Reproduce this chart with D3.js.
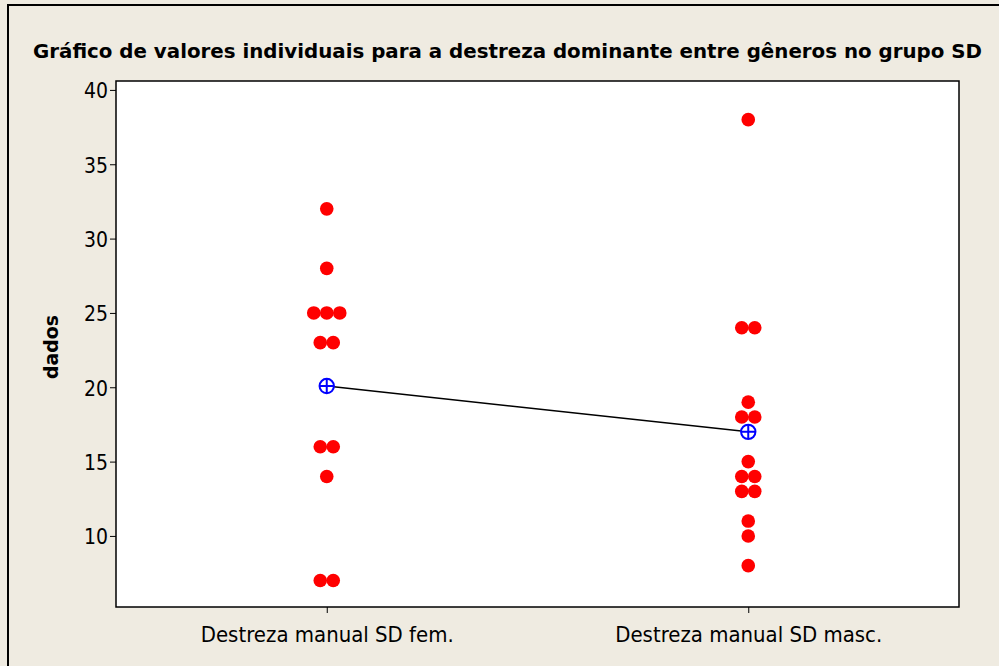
<!DOCTYPE html>
<html><head><meta charset="utf-8">
<script src="https://cdn.jsdelivr.net/npm/d3@7"></script>
<style>body{margin:0;background:#EFEBE1;}svg{display:block;}</style>
</head><body>
<svg id="chart" width="999" height="666"></svg>
<script>
const categories = ["Destreza manual SD fem.", "Destreza manual SD masc."];
const femValues = [32, 28, 25, 25, 25, 23, 23, 16, 16, 14, 7, 7];
const mascValues = [38, 24, 24, 19, 18, 18, 15, 14, 14, 13, 13, 11, 10, 8];
const groupMeans = [20.08, 17.0];
const yTicks = [10, 15, 20, 25, 30, 35, 40];
const titleText = "Gráfico de valores individuais para a destreza dominante entre gêneros no grupo SD";
const yLabel = "dados";

const svg = d3.select("#chart");
const W = 999, H = 666;
const m = {left: 116, right: 959, top: 81, bottom: 607};
const FONT = "'DejaVu Sans', sans-serif";

svg.append("rect").attr("x",0).attr("y",0).attr("width",W).attr("height",H).attr("fill","#EFEBE1");
svg.append("path").attr("d",`M8,${H} L8,5 L${W},5`).attr("fill","none").attr("stroke","#000").attr("stroke-width",2);

const x = d3.scalePoint().domain(categories).range([m.left, m.right]).padding(0.5);
const y = d3.scaleLinear().domain([5.22, 40.6]).range([m.bottom, m.top]);

svg.append("rect").attr("x",m.left).attr("y",m.top).attr("width",m.right-m.left).attr("height",m.bottom-m.top)
  .attr("fill","#fff").attr("stroke","#000").attr("stroke-width",1.5);

const yAxis = svg.append("g").attr("transform",`translate(${m.left},0)`)
  .call(d3.axisLeft(y).tickValues(yTicks).tickSize(6).tickPadding(2).tickFormat(d3.format("d")));
yAxis.select(".domain").remove();
yAxis.selectAll("text").attr("font-family",FONT).attr("font-size",21.5).attr("fill","#000")
  .attr("dy","0.36em")
  .attr("textLength",24).attr("lengthAdjust","spacingAndGlyphs");
yAxis.selectAll("line").attr("stroke","#000");

const labelWidths = [253, 267];
const xAxis = svg.append("g").attr("transform",`translate(0,${m.bottom})`)
  .call(d3.axisBottom(x).tickSize(6).tickPadding(10));
xAxis.select(".domain").remove();
xAxis.selectAll("text").attr("font-family",FONT).attr("font-size",20.5).attr("fill","#000")
  .attr("dy","0.93em")
  .attr("textLength",(d,i)=>labelWidths[i]).attr("lengthAdjust","spacingAndGlyphs");
xAxis.selectAll("line").attr("stroke","#000");

svg.append("text").attr("x", (33+982)/2).attr("y", 58).attr("text-anchor","middle")
  .attr("font-family",FONT).attr("font-weight","bold").attr("font-size",19.5)
  .attr("textLength",949).attr("lengthAdjust","spacingAndGlyphs")
  .text(titleText);

svg.append("text").attr("transform",`translate(58,${(m.top+m.bottom)/2+3}) rotate(-90)`).attr("text-anchor","middle")
  .attr("font-family",FONT).attr("font-weight","bold").attr("font-size",20)
  .attr("textLength",64).attr("lengthAdjust","spacingAndGlyphs")
  .text(yLabel);

const dotR = 6.8, step = 13;
function placeDots(vals, cat){
  const counts = d3.rollup(vals, v=>v.length, d=>d);
  const pts = [];
  counts.forEach((n, v) => {
    for(let i=0;i<n;i++) pts.push({v, cat, off: (i-(n-1)/2)*step});
  });
  return pts;
}
const allPts = placeDots(femValues, categories[0]).concat(placeDots(mascValues, categories[1]));

const meanPts = categories.map((c,i)=>({cat:c, v:groupMeans[i]}));
svg.append("path").datum(meanPts)
  .attr("d", d3.line().x(d=>x(d.cat)).y(d=>y(d.v)))
  .attr("fill","none").attr("stroke","#000").attr("stroke-width",1.5);

svg.append("g").selectAll("circle").data(allPts).join("circle")
  .attr("cx", d=>x(d.cat)+d.off).attr("cy", d=>y(d.v)).attr("r", dotR).attr("fill","#FF0000");

const mg = svg.append("g").selectAll("g").data(meanPts).join("g")
  .attr("transform", d=>`translate(${x(d.cat)},${y(d.v)})`);
mg.append("circle").attr("r",7.2).attr("fill","#fff").attr("stroke","#0000FF").attr("stroke-width",2);
mg.append("path").attr("d","M-7.2,0H7.2M0,-7.2V7.2").attr("stroke","#0000FF").attr("stroke-width",2);
</script>
</body></html>
